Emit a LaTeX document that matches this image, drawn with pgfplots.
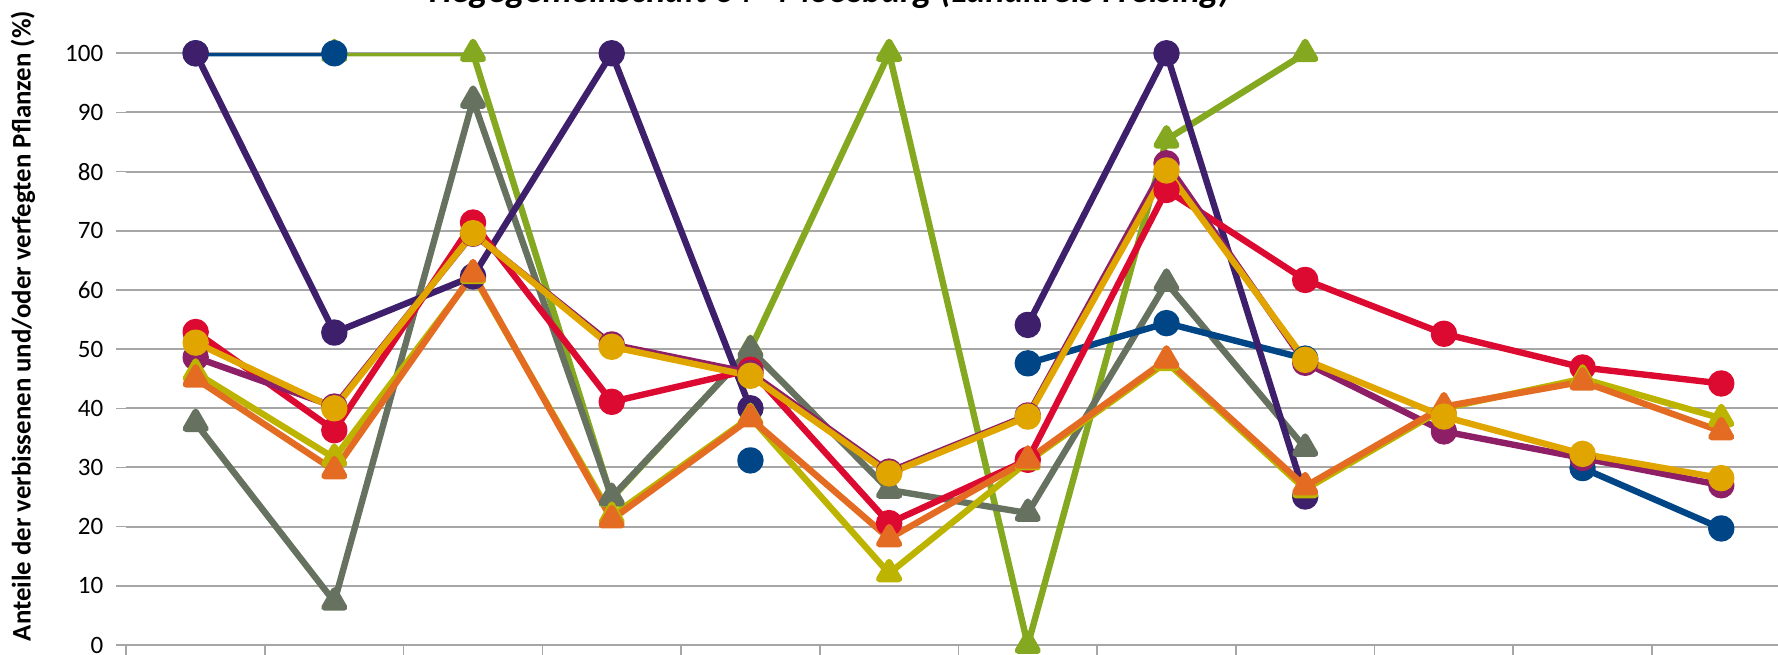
\documentclass[border=0pt]{standalone}
\usepackage{pgfplots}
\pgfplotsset{compat=1.18}
\usepackage{pgfplotstable}
\usepackage{fontspec}
\setmainfont{Carlito}
\definecolor{cblue}{HTML}{004586}
\definecolor{cpurple}{HTML}{3D1F6B}
\definecolor{cgreen}{HTML}{84A81F}
\definecolor{cgray}{HTML}{667160}
\definecolor{cred}{HTML}{DC0A30}
\definecolor{cmagenta}{HTML}{8E1F66}
\definecolor{cyellow}{HTML}{BCB400}
\definecolor{corange}{HTML}{E46C22}
\definecolor{cgold}{HTML}{E1A500}
\definecolor{cgrid}{HTML}{A6A6A6}
\pgfplotstableread{
x blue purple green gray red magenta yellow orange gold
0 100 100 nan 37.5 52.9 48.6 46.0 45.0 51.1
1 100 52.8 100 7.3 36.3 40.3 31.6 29.5 40.0
2 nan 62.3 100 92.1 71.4 69.5 62.5 62.8 69.6
3 nan 100 24.8 25.0 41.1 50.8 21.8 21.2 50.4
4 31.2 40.0 50.0 49.9 46.5 46.0 38.5 38.3 45.5
5 nan nan 100 26.2 20.6 29.3 12.1 18.0 29.0
6 47.6 54.1 0 22.3 31.3 38.8 31.0 31.3 38.6
7 54.4 100 85.4 61.2 76.9 81.4 47.8 48.2 80.2
8 48.4 25.1 100 33.3 61.7 47.7 26.3 26.8 48.2
9 nan nan nan nan 52.6 36.1 40.0 40.3 38.6
10 29.9 nan nan nan 46.9 31.6 45.0 44.5 32.3
11 19.7 nan nan nan 44.2 27.0 38.3 36.1 28.2
}\data
\begin{document}
\begin{tikzpicture}[x=1pt,y=1pt]
\useasboundingbox (0,0) rectangle (889,327);
\begin{axis}[
  at={(63.15pt,4.5pt)}, anchor=south west,
  width=825.85pt, height=295.85pt, scale only axis,
  xmin=-0.5, xmax=11.409, ymin=0, ymax=100,
  axis x line*=bottom, axis y line*=left,
  y axis line style={draw=none},
  x axis line style={draw=cgrid, line width=1pt},
  xtick={-0.5,0.5,1.5,2.5,3.5,4.5,5.5,6.5,7.5,8.5,9.5,10.5},
  xticklabels={},
  ytick={0,10,...,100},
  tick align=outside,
  major tick length=5pt,
  xtick style={draw=cgrid, line width=0.8pt},
  ytick style={draw=cgrid, line width=0.8pt},
  ymajorgrids,
  grid style={draw=cgrid, line width=1pt},
  /pgf/number format/assume math mode=true,
  yticklabel style={font=\fontsize{12.5}{14}\selectfont, xshift=-3pt},
  title={Hegegemeinschaft 64 - Moosburg (Landkreis Freising)},
  title style={at={(axis description cs:0.4258,1.0656)}, anchor=base, yshift=0pt, font=\bfseries\itshape\fontsize{18}{20}\selectfont},
  ylabel={Anteile der verbissenen und/oder verfegten Pflanzen (\%)},
  ylabel style={at={(axis description cs:-0.0625,0.539)}, anchor=center, font=\bfseries\fontsize{13.4}{15}\selectfont},
  unbounded coords=jump,
  every axis plot/.append style={line width=3.2pt, line join=round},
]
\addplot[cgreen, mark=triangle*, mark size=5.7pt] table[x=x,y=green]{\data};
\addplot[cgray, mark=triangle*, mark size=5.7pt] table[x=x,y=gray]{\data};
\addplot[cblue, mark=*, mark size=5pt] table[x=x,y=blue]{\data};
\addplot[cpurple, mark=*, mark size=5pt] table[x=x,y=purple]{\data};
\addplot[cred, mark=*, mark size=5pt] table[x=x,y=red]{\data};
\addplot[cmagenta, mark=*, mark size=5pt] table[x=x,y=magenta]{\data};
\addplot[cyellow, mark=triangle*, mark size=5.7pt] table[x=x,y=yellow]{\data};
\addplot[corange, mark=triangle*, mark size=5.7pt] table[x=x,y=orange]{\data};
\addplot[cgold, mark=*, mark size=5pt] table[x=x,y=gold]{\data};
\end{axis}
\end{tikzpicture}
\end{document}
